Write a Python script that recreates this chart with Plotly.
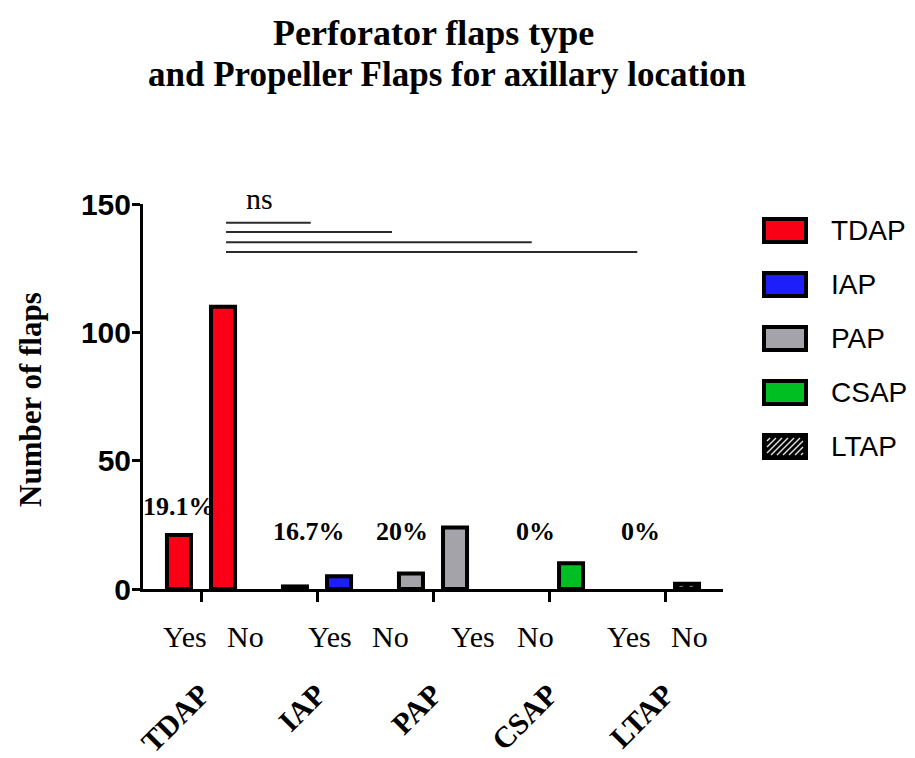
import plotly.graph_objects as go

# ---------------- data ----------------
categories = ["TDAP", "IAP", "PAP", "CSAP", "LTAP"]
yes_counts = [21, 1, 6, 0, 0]
no_counts = [110, 5, 24, 10, 2]
bar_colors = ["#FA0016", "#1E1EFA", "#A3A3A9", "#00BF22", "#000000"]

pct_labels = ["19.1%", "16.7%", "20%", "0%", "0%"]
pct_x = [-0.19, 0.93, 1.73, 2.88, 3.79]
pct_y = [32, 22.4, 22.4, 22.4, 22.4]

yesno_text = ["Yes", "No", "Yes", "No", "Yes", "No", "Yes", "No"]
yesno_x = [-0.14, 0.38, 1.11, 1.63, 2.345, 2.88, 3.69, 4.215]

sig_x0 = [0.216, 0.216, 0.216, 0.216]
sig_x1 = [0.946, 1.647, 2.851, 3.761]
sig_y = [142.7, 139.1, 135.1, 131.3]
sig_label = "ns"

title_lines = ["Perforator flaps type", "and Propeller Flaps for axillary location"]
y_title = "Number of flaps"

# ---------------- layout geometry ----------------
PAGE = 8                      # default body margin of the html page
W, H = 915 - PAGE, 758 - PAGE
L, T = 143 - PAGE, 204 - PAGE
R, B = 192, 169
PW, PH = W - L - R, H - T - B
OFF = 0.19
BW = 0.207


def px2x(px):
    """screen x pixel (reference) -> paper x"""
    return (px - PAGE - L) / PW


def py2y(py):
    """screen y pixel (reference) -> paper y"""
    return (H - B - (py - PAGE)) / PH


SERIF = "Liberation Serif"
SANS = "Liberation Sans"

fig = go.Figure()
for i, cat in enumerate(categories):
    vals = [yes_counts[i], no_counts[i]]
    marker = dict(color=bar_colors[i],
                  line=dict(color="black", width=[4 if v > 0 else 0 for v in vals]))
    if cat == "LTAP":
        marker["pattern"] = dict(shape="/", fgcolor="white", bgcolor="black", size=7, solidity=0.3)
    fig.add_trace(go.Bar(
        x=[i - OFF, i + OFF],
        y=vals,
        width=BW,
        name=cat,
        marker=marker,
        showlegend=False,
        hoverinfo="skip",
    ))

annotations = []
shapes = []

# percentage labels
for t, x, y in zip(pct_labels, pct_x, pct_y):
    annotations.append(dict(x=x, y=y, xref="x", yref="y", text=t, showarrow=False,
                            font=dict(family=SERIF, size=26, color="black", weight="bold"),
                            xanchor="center", yanchor="middle"))

# Yes / No labels
for t, x in zip(yesno_text, yesno_x):
    annotations.append(dict(x=x, y=py2y(636), xref="x", yref="paper", text=t, showarrow=False,
                            font=dict(family=SERIF, size=30, color="black"),
                            xanchor="center", yanchor="middle"))

# significance lines
for x0, x1, y in zip(sig_x0, sig_x1, sig_y):
    shapes.append(dict(type="line", xref="x", yref="y", x0=x0, x1=x1, y0=y, y1=y,
                       line=dict(color="#2a2a2a", width=2)))
annotations.append(dict(x=0.5, y=py2y(198), xref="x", yref="paper", text=sig_label, showarrow=False,
                        font=dict(family=SERIF, size=30, color="black"),
                        xanchor="center", yanchor="middle"))

# titles
annotations.append(dict(x=px2x(434), y=py2y(33), xref="paper", yref="paper", text=title_lines[0],
                        showarrow=False, font=dict(family=SERIF, size=36, color="black", weight="bold"),
                        xanchor="center", yanchor="middle"))
annotations.append(dict(x=px2x(447), y=py2y(74), xref="paper", yref="paper", text=title_lines[1],
                        showarrow=False, font=dict(family=SERIF, size=35, color="black", weight="bold"),
                        xanchor="center", yanchor="middle"))

# y-axis title
annotations.append(dict(x=px2x(30), y=py2y(400), xref="paper", yref="paper", text=y_title,
                        showarrow=False, textangle=-90,
                        font=dict(family=SERIF, size=31, color="black", weight="bold"),
                        xanchor="center", yanchor="middle"))

# custom legend
for i, cat in enumerate(categories):
    cy = 230.5 + 54 * i
    x0p, x1p, y0p, y1p = 764, 806, cy - 11.5, cy + 11.5
    shapes.append(dict(type="rect", xref="paper", yref="paper",
                       x0=px2x(x0p), x1=px2x(x1p), y0=py2y(y1p), y1=py2y(y0p),
                       fillcolor=bar_colors[i], line=dict(color="black", width=4)))
    if cat == "LTAP":
        xl, xr, yt, yb = x0p + 3, x1p - 3, y0p + 3, y1p - 3
        h = yb - yt
        c = xl - h + 3
        while c < xr:
            t0 = max(0, xl - c)
            t1 = min(h, xr - c)
            if t1 > t0:
                shapes.append(dict(type="line", xref="paper", yref="paper",
                                   x0=px2x(c + t0), y0=py2y(yb - t0),
                                   x1=px2x(c + t1), y1=py2y(yb - t1),
                                   line=dict(color="#dddddd", width=1.5)))
            c += 6
    annotations.append(dict(x=px2x(829), y=py2y(cy), xref="paper", yref="paper", text=cat,
                            showarrow=False, font=dict(family=SANS, size=28, color="black"),
                            xanchor="left", yanchor="middle"))

fig.update_layout(
    width=W, height=H,
    margin=dict(l=L, r=R, t=T, b=B, pad=0, autoexpand=False),
    paper_bgcolor="white", plot_bgcolor="white",
    barmode="overlay", showlegend=False,
    annotations=annotations, shapes=shapes,
    xaxis=dict(range=[-0.5, 4.5], showline=True, linecolor="black", linewidth=3,
               ticks="outside", ticklen=10, tickwidth=3, tickcolor="black",
               tickvals=list(range(len(categories))), ticktext=categories, tickangle=-45,
               ticklabelstandoff=63, automargin=False,
               tickfont=dict(family=SERIF, size=30, color="black", weight="bold"),
               showgrid=False, zeroline=False, fixedrange=True),
    yaxis=dict(range=[0, 150], tickvals=[0, 50, 100, 150], showline=True, linecolor="black",
               linewidth=3, ticks="outside", ticklen=8, tickwidth=3, tickcolor="black",
               automargin=False, ticklabelstandoff=-5,
               tickfont=dict(family=SANS, size=30, color="black", weight="bold"),
               showgrid=False, zeroline=False, fixedrange=True),
)

fig.write_html("out.html")
